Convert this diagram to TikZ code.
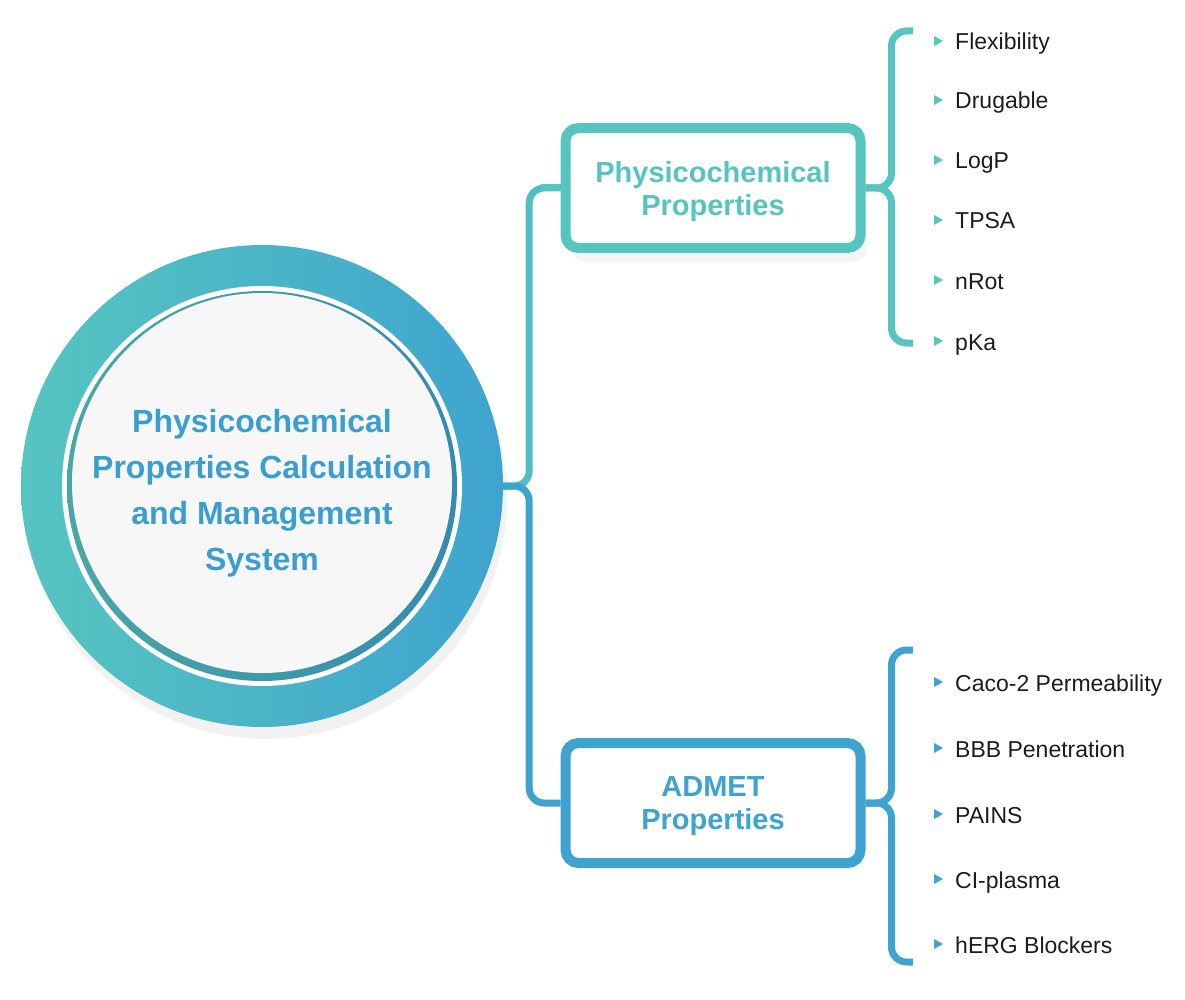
\documentclass[tikz,border=0pt]{standalone}
\usepackage{fontspec}
\setmainfont{Liberation Sans}
\usetikzlibrary{shadows,calc}

\definecolor{teal1}{HTML}{56C5C0}
\definecolor{blue1}{HTML}{3EA4CF}
\definecolor{titleblue}{HTML}{3A9FD0}
\definecolor{paper}{HTML}{F7F7F7}
\definecolor{itemtext}{HTML}{1C1C1C}

\tikzset{
  probox/.style={draw=#1, line width=10pt, rounded corners=13pt, fill=white,
    minimum width=295pt, minimum height=120pt, text=#1, align=center, text depth=-6pt,
    font=\fontsize{29}{33}\selectfont\bfseries},
  boxshadow/.style={drop shadow={opacity=0.08, shadow xshift=6pt, shadow yshift=-14pt}},
  link/.style={draw=#1, line width=7pt, rounded corners=15pt},
  prop/.style={anchor=base west, text=itemtext, inner sep=0pt,
    font=\fontsize{23}{26}\selectfont},
}

\begin{document}
\begin{tikzpicture}[x=1pt,y=-1pt]
    \useasboundingbox (0,0) rectangle (1185,1000);

    % centre circle
    \node[circle, minimum size=482pt, inner sep=0pt, left color=teal1, right color=blue1,
        drop shadow={opacity=0.1, shadow xshift=4pt, shadow yshift=-12pt}] (sys) at (262,486) {};
    \fill[white] (sys.center) circle (200);
    \shade[left color=teal1!85!black, right color=blue1!85!black] (sys.center) circle (195);
    \fill[paper] ($(sys.center)+(0,-3)$) circle (190);
    \node[text=titleblue, align=center, font=\fontsize{32}{46}\selectfont\bfseries] (title)
        at (262,493) {Physicochemical\\Properties Calculation\\and Management\\System};

    % the two groups
    \node[probox=teal1, boxshadow] (phys) at (713,188) {Physicochemical\\Properties};
    \node[probox=blue1] (admet) at (713,803) {ADMET\\Properties};

    \draw[link=teal1!80!blue1] (sys.east) -- ++(26,0) |- (phys.west);
    \draw[link=blue1] (sys.east) -- ++(26,0) |- (admet.west);
    \draw[link=teal1] ($(phys.west)+(-20,0)$) -- (phys.west);

    % braces
    \coordinate (ptop) at (913,31);
    \coordinate (pbot) at (913,343);
    \coordinate (atop) at (913,650);
    \coordinate (abot) at (913,962);
    \draw[link=teal1] (phys.east) -- ++(26,0) |- (ptop);
    \draw[link=teal1] (phys.east) -- ++(26,0) |- (pbot);
    \draw[link=blue1] (admet.east) -- ++(26,0) |- (atop);
    \draw[link=blue1] (admet.east) -- ++(26,0) |- (abot);

    % items
    \foreach \y/\t [count=\i] in {50/Flexibility, 109/Drugable, 169/LogP, 229/TPSA, 289/nRot, 350/pKa} {
        \node[prop] (p\i) at (955,\y) {\t};
        \fill[teal1] ($(p\i.base west)+(-21,-14)$) -- ++(9,5) -- ++(-9,5) -- cycle;
    }
    \foreach \y/\t [count=\i] in {691/Caco-2 Permeability, 757/BBB Penetration, 823/PAINS, 888/CI-plasma, 953/hERG Blockers} {
        \node[prop] (a\i) at (955,\y) {\t};
        \fill[blue1] ($(a\i.base west)+(-21,-14)$) -- ++(9,5) -- ++(-9,5) -- cycle;
    }
\end{tikzpicture}
\end{document}
